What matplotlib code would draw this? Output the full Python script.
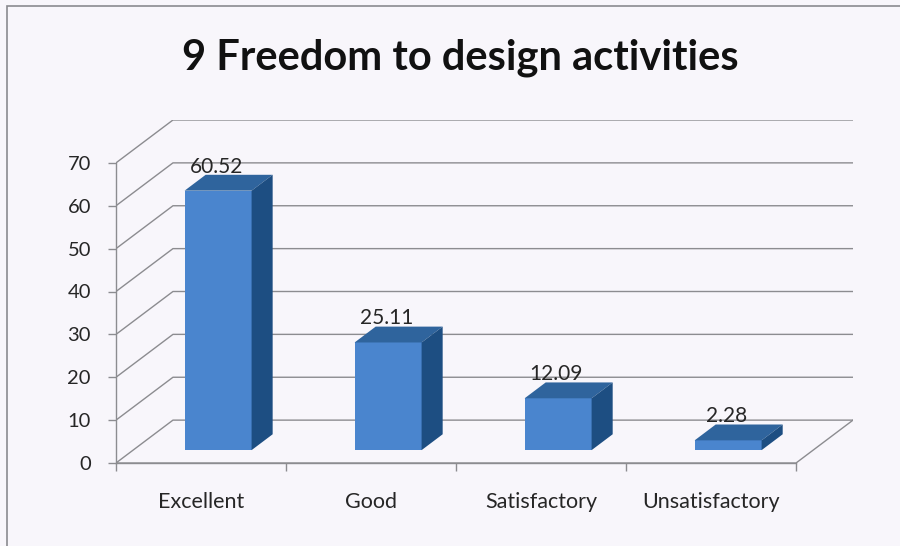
import matplotlib
matplotlib.use("Agg")
import matplotlib.pyplot as plt
from matplotlib.patches import Polygon, Rectangle

categories = ["Excellent", "Good", "Satisfactory", "Unsatisfactory"]
values = [60.52, 25.11, 12.09, 2.28]
value_labels = ["60.52", "25.11", "12.09", "2.28"]
yticks = [0, 10, 20, 30, 40, 50, 60, 70]
title = "9 Freedom to design activities"

BG = "#f8f6fb"
FRONT = "#4a85ce"
TOP = "#2f649d"
SIDE = "#1d4e82"
GRID = "#8c8c90"
TEXT = "#262626"
FONT = "Lato"

# pseudo-3D depth projection (in data units)
DX, DY = 0.335, 10.0          # full depth offset of back wall
BAR_D0, BAR_D = 0.30, 0.37    # bar front depth and bar depth (fractions)
BAR_W = 0.394

fig = plt.figure(figsize=(9, 5.46), dpi=100, facecolor=BG)
fig.patches.append(Rectangle((7 / 900, -0.1), 1.2, (546 - 6) / 546 + 0.1,
                             transform=fig.transFigure, fill=False,
                             edgecolor="#8a8a90", linewidth=1.2))

ax = fig.add_axes([116 / 900, 83 / 546, 737 / 900, 343 / 546])
ax.set_facecolor("none")
n = len(categories)
ax.set_xlim(0, n + DX)
ax.set_ylim(0, yticks[-1] + DY)

# back wall gridlines and side wall
for v in yticks:
    ax.plot([0, DX, n + DX], [v, v + DY, v + DY], color=GRID, lw=1.0, zorder=1)
# floor front edge and right edge
ax.plot([0, n, n + DX], [0, 0, DY], color=GRID, lw=1.0, zorder=1)

# bars
offx = BAR_D0 * DX
offy = BAR_D0 * DY
ddx = BAR_D * DX
ddy = BAR_D * DY
xs = [i + 0.5 + offx for i in range(n)]
ax.bar(xs, values, width=BAR_W, bottom=offy, color=FRONT, edgecolor="none", zorder=3)
for x, v, lab in zip(xs, values, value_labels):
    l, r = x - BAR_W / 2, x + BAR_W / 2
    top = v + offy
    ax.add_patch(Polygon([(l, top), (r, top), (r + ddx, top + ddy), (l + ddx, top + ddy)],
                         closed=True, facecolor=TOP, edgecolor="none", zorder=3))
    ax.add_patch(Polygon([(r, offy), (r + ddx, offy + ddy), (r + ddx, top + ddy), (r, top)],
                         closed=True, facecolor=SIDE, edgecolor="none", zorder=3))
    ax.text(x - 0.01, top + ddy + 1.9, lab, ha="center", va="center",
            fontsize=15, color=TEXT, family=FONT, zorder=4)

# axes decorations
for s in ["top", "right"]:
    ax.spines[s].set_visible(False)
ax.spines["left"].set_bounds(0, yticks[-1])
ax.spines["bottom"].set_bounds(0, n)
for s in ["left", "bottom"]:
    ax.spines[s].set_color(GRID)
    ax.spines[s].set_linewidth(1.0)
ax.set_yticks(yticks)
ax.set_yticklabels([str(t) for t in yticks], fontsize=14.5, color=TEXT, family=FONT)
ax.tick_params(axis="y", length=6, width=1.0, color=GRID, pad=12)
ax.set_xticks(range(n + 1))
ax.set_xticklabels([""] * (n + 1))
ax.set_xticks([i + 0.5 for i in range(n)], minor=True)
ax.set_xticklabels(categories, minor=True, fontsize=15.5, color=TEXT, family=FONT)
ax.tick_params(axis="x", which="major", length=6, width=1.0, color=GRID)
ax.tick_params(axis="x", which="minor", length=0, pad=21)

fig.text(460 / 900, 1 - 58 / 546, title, ha="center", va="center",
         fontsize=30, fontweight="bold", color="#111111", family=FONT)

fig.savefig("out.png", dpi=100, facecolor=BG)
